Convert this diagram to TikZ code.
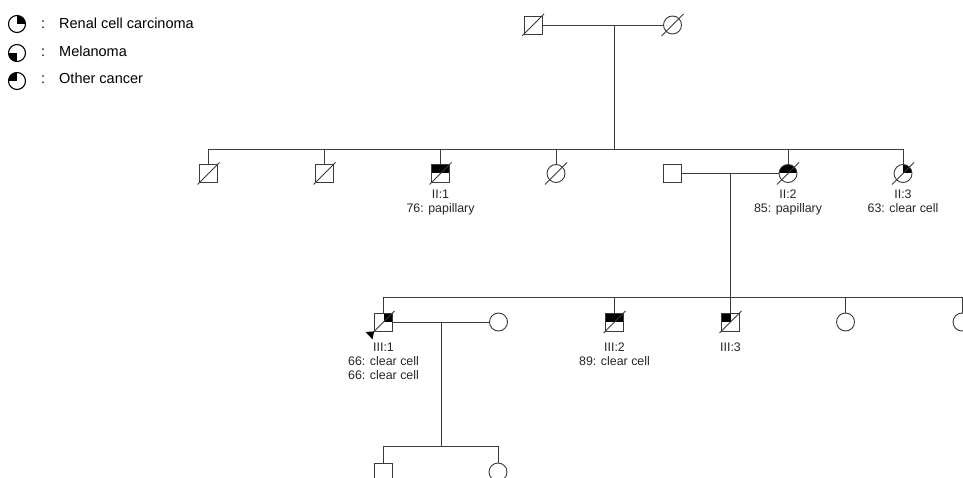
\documentclass[tikz,border=0pt]{standalone}
\usepackage{fontspec}
\setmainfont{Liberation Sans}
\definecolor{lc}{HTML}{3A3A3A}
\newcommand\deceased[1]{\draw[ln] ([shift={(-11,11)}]#1.center) -- ([shift={(11,-11)}]#1.center);}
\begin{document}
\begin{tikzpicture}[x=1pt,y=-1pt,
  ln/.style={draw=lc, line width=0.9pt},
  sym/.style={draw=lc, line width=0.9pt, fill=white, minimum size=18pt, inner sep=0pt},
  sq/.style={sym, rectangle},
  ci/.style={sym, circle},
  qTR/.style={path picture={\fill[black] (path picture bounding box.center) rectangle (path picture bounding box.north east);}},
  qTL/.style={path picture={\fill[black] (path picture bounding box.center) rectangle (path picture bounding box.north west);}},
  qBL/.style={path picture={\fill[black] (path picture bounding box.center) rectangle (path picture bounding box.south west);}},
  hTop/.style={path picture={\fill[black] (path picture bounding box.west) rectangle (path picture bounding box.north east);}},
  lab/.style={font=\fontsize{12.4}{14}\selectfont, inner sep=0pt, anchor=base, text=black!85},
  lgt/.style={font=\fontsize{14.5}{16}\selectfont, inner sep=0pt, anchor=base west},
  lgs/.style={circle, draw=black, line width=1.1pt, minimum size=17pt, inner sep=0pt}]
\useasboundingbox (0,0) rectangle (963,478);
\clip (0,0) rectangle (963,478);

% legend
\node[lgs, qTR] (lg1) at (17,24) {};
\node[lgs, qBL] (lg2) at (17,53) {};
\node[lgs, qTL] (lg3) at (17,81) {};
\node[lgt] (lc1) at (41,28.5) {:};
\node[lgt] (lc2) at (41,56.7) {:};
\node[lgt] (lc3) at (41,84) {:};
\node[lgt] (lt1) at (59,28.5) {Renal cell carcinoma};
\node[lgt] (lt2) at (59,56.7) {Melanoma};
\node[lgt] (lt3) at (59,84) {Other cancer};

% generation I
\node[sq] (Ia) at (533,25) {};
\node[ci] (Ib) at (672.5,25) {};
\coordinate (dI) at (614,25);
\coordinate (gII) at (0,149);
\coordinate (gIII) at (0,297);
\coordinate (gIV) at (0,446);

% generation II
\node[sq] (IIa) at (208.5,173.5) {};
\node[sq] (IIb) at (324.5,173.5) {};
\node[sq, hTop] (II1) at (440.5,173.5) {};
\node[ci] (IIc) at (556,173.5) {};
\node[sq] (IIsp) at (672,173.5) {};
\node[ci, hTop] (II2) at (788,173.5) {};
\node[ci, qTR] (II3) at (903,173.5) {};
\coordinate (dII) at (730,173.5);

% generation III
\node[sq, qTR] (III1) at (383.5,322) {};
\node[ci] (IIIsp) at (498.5,322) {};
\node[sq, hTop] (III2) at (614.5,322) {};
\node[sq, qTL] (III3) at (730.5,322) {};
\node[ci] (IIId) at (845.5,322) {};
\node[ci] (IIIe) at (962,322) {};
\coordinate (dIII) at (441,322);

% generation IV
\node[sq] (IVa) at (383,472) {};
\node[ci] (IVb) at (498,472) {};

% connectors
\draw[ln] (Ia) -- (Ib);
\draw[ln] (dI) -- (dI |- gII);
\draw[ln] (IIa.north |- gII) -- (II3.north |- gII);
\foreach \n in {IIa,IIb,II1,IIc,II2,II3}{\draw[ln] (\n.north) -- (\n.north |- gII);}
\draw[ln] (IIsp) -- (II2);
\draw[ln] (dII) -- (dII |- gIII);
\draw[ln] (III1.north |- gIII) -- (IIIe.north |- gIII);
\foreach \n in {III1,III2,III3,IIId,IIIe}{\draw[ln] (\n.north) -- (\n.north |- gIII);}
\draw[ln] (III1) -- (IIIsp);
\draw[ln] (dIII) -- (dIII |- gIV);
\draw[ln] (IVa.north |- gIV) -- (IVb.north |- gIV);
\foreach \n in {IVa,IVb}{\draw[ln] (\n.north) -- (\n.north |- gIV);}

% deceased
\foreach \n in {Ia,Ib,IIa,IIb,II1,IIc,II2,II3,III1,III2,III3}{\deceased{\n}}

% proband arrow
\fill[black] (III1.south west) -- ([shift={(-8.5,0.5)}]III1.south west) -- ([shift={(-1.5,8)}]III1.south west) -- cycle;

% labels
\node[lab] (l1a) at (440.5,198.5) {II:1};
\node[lab] (l1b) at (440.5,212.5) {76: papillary};
\node[lab] (l2a) at (788,198.5) {II:2};
\node[lab] (l2b) at (788,212.5) {85: papillary};
\node[lab] (l3a) at (903,198.5) {II:3};
\node[lab] (l3b) at (903,212.5) {63: clear cell};
\node[lab] (m1a) at (383.5,351) {III:1};
\node[lab] (m1b) at (383.5,365) {66: clear cell};
\node[lab] (m1c) at (383.5,379) {66: clear cell};
\node[lab] (m2a) at (614.5,351) {III:2};
\node[lab] (m2b) at (614.5,365) {89: clear cell};
\node[lab] (m3a) at (730.5,351) {III:3};
\end{tikzpicture}
\end{document}
